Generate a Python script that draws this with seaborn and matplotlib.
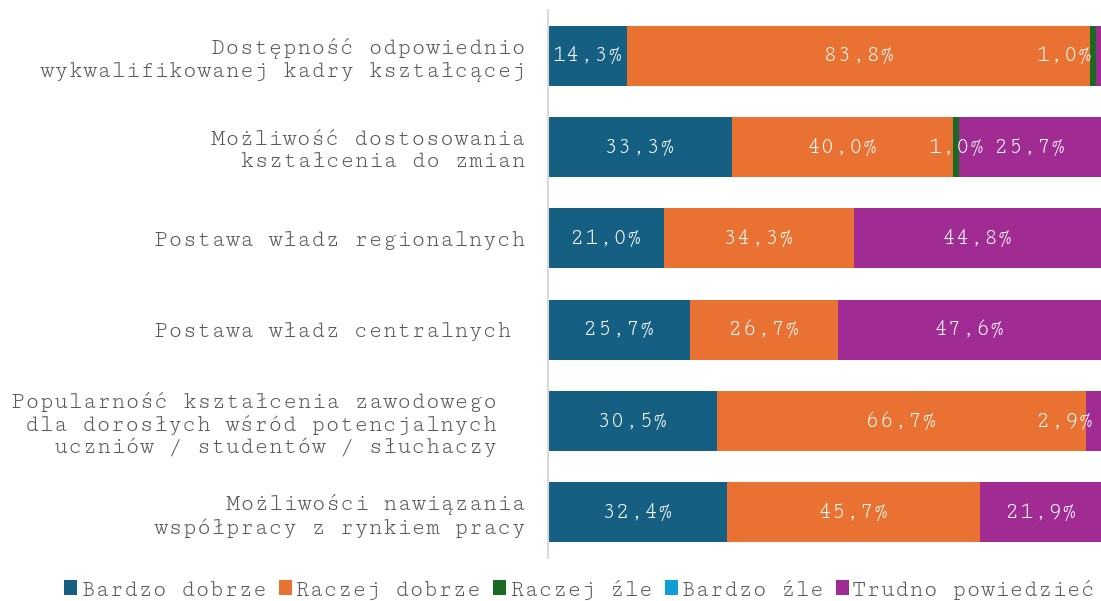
"""Stacked horizontal bar chart: ocena czynników kształcenia zawodowego."""

import matplotlib.pyplot as plt
import numpy as np
import seaborn as sns
from matplotlib import font_manager
from matplotlib.patches import Patch

categories = [
    "Dostępność odpowiednio\nwykwalifikowanej kadry kształcącej",
    "Możliwość dostosowania\nkształcenia do zmian",
    "Postawa władz regionalnych",
    "Postawa władz centralnych ",
    "Popularność kształcenia zawodowego  \ndla dorosłych wśród potencjalnych  \nuczniów / studentów / słuchaczy  ",
    "Możliwości nawiązania\nwspółpracy z rynkiem pracy",
]
series = ["Bardzo dobrze", "Raczej dobrze", "Raczej źle", "Bardzo źle", "Trudno powiedzieć"]
bardzo_dobrze = [14.3, 33.3, 21.0, 25.7, 30.5, 32.4]
raczej_dobrze = [83.8, 40.0, 34.3, 26.7, 66.7, 45.7]
raczej_zle = [1.0, 1.0, 0.0, 0.0, 0.0, 0.0]
bardzo_zle = [0.0, 0.0, 0.0, 0.0, 0.0, 0.0]
trudno_powiedziec = [0.9, 25.7, 44.8, 47.6, 2.9, 21.9]
colors = ["#156082", "#E97132", "#196B24", "#0F9ED5", "#A02B93"]

values = np.array([bardzo_dobrze, raczej_dobrze, raczej_zle, bardzo_zle, trudno_powiedziec]).T
cum = values.cumsum(axis=1)

sns.set_style("white")
installed = {f.name for f in font_manager.fontManager.ttflist}
families = [f for f in ["Courier New", "Cutive Mono", "Courier Prime", "Liberation Mono"] if f in installed]
plt.rcParams["font.family"] = families + ["DejaVu Sans Mono"]
FS = 17

fig = plt.figure(figsize=(11.01, 6.01), dpi=100)
ax = fig.add_axes([548 / 1101, 43 / 601, 553 / 1101, 548 / 601])

# stacked bars: draw cumulative totals back to front
for i in reversed(range(len(series))):
    sns.barplot(
        x=cum[:, i], y=categories, orient="h", color=colors[i],
        saturation=1, width=0.66, edgecolor="none", ax=ax,
    )

ax.set_xlim(0, 100)
ax.set_ylim(5.5, -0.5)
ax.set_xlabel("")
ax.set_ylabel("")
ax.xaxis.set_visible(False)
ax.tick_params(axis="y", length=0, pad=16, labelsize=FS, labelcolor="#595959")
for side in ["top", "right", "bottom"]:
    ax.spines[side].set_visible(False)
ax.spines["left"].set_color("#D9D9D9")
ax.spines["left"].set_linewidth(1.5)

# data labels
axis_width_pt = 553 * 0.72
for r in range(len(categories)):
    for i in range(len(series)):
        v = values[r, i]
        if v < 1.0:
            continue
        txt = f"{v:.1f}%".replace(".", ",")
        center = cum[r, i] - v / 2
        half = len(txt) * 0.6 * FS / 2 / axis_width_pt * 100
        if center + half > 98.5:
            ax.annotate(txt, xy=(100, r), xytext=(-6, 0), textcoords="offset points",
                        ha="right", va="center", color="white", fontsize=FS)
        else:
            ax.text(center, r, txt, ha="center", va="center", color="white", fontsize=FS)

handles = [Patch(facecolor=c, edgecolor="none") for c in colors]
fig.legend(
    handles, series, loc="center", bbox_to_anchor=(580 / 1101, 1 - 590 / 601),
    ncol=5, frameon=False, fontsize=FS, labelcolor="#595959",
    handlelength=0.55, handleheight=0.55, handletextpad=0.15, columnspacing=0.5,
    borderpad=0, borderaxespad=0,
)

fig.savefig("out.png", dpi=100)
plt.close(fig)
